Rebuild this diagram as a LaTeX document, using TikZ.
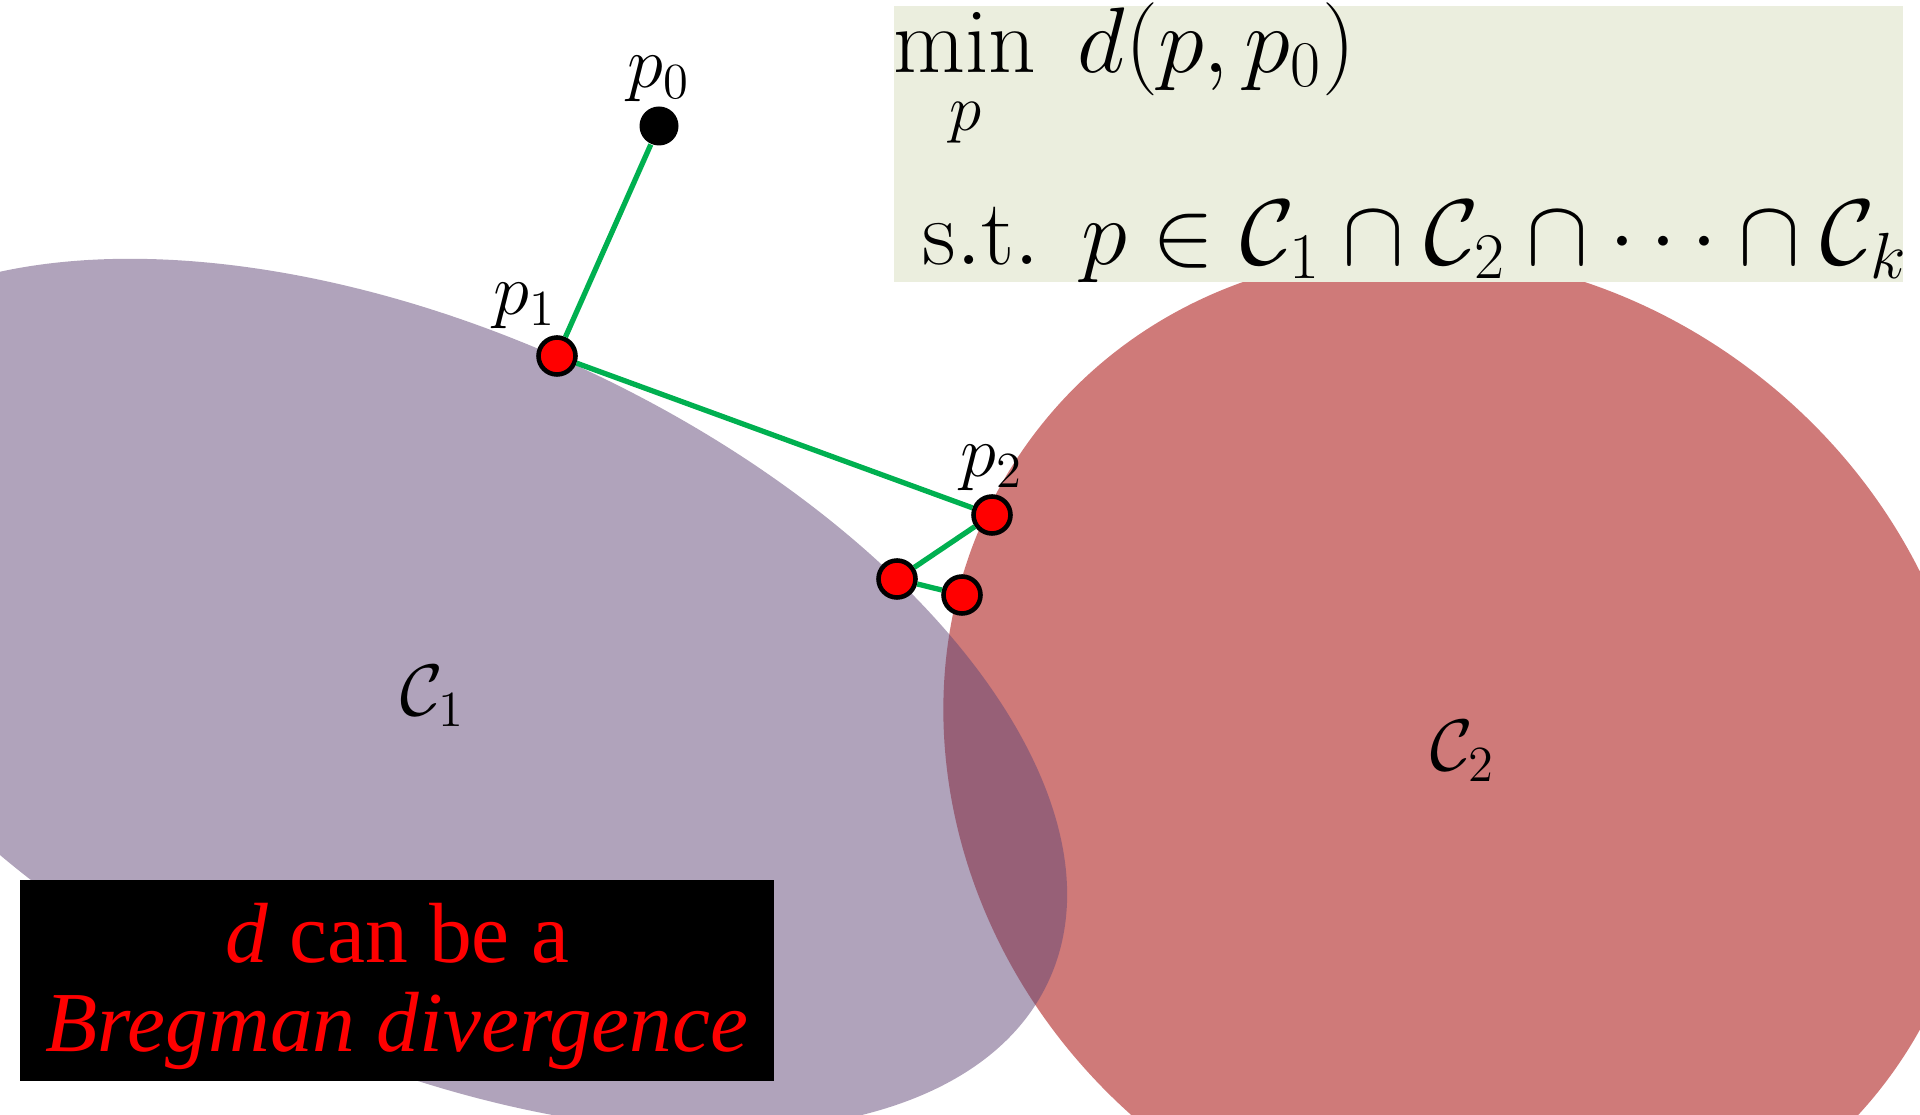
\documentclass[tikz,border=0pt]{standalone}
\usepackage{fix-cm}
\usepackage{amsmath,amssymb}
\usepackage{fontspec}
\newfontfamily\notefont{Liberation Serif}
\usepackage{tikz}
\usetikzlibrary{positioning, calc}
\definecolor{setone}{RGB}{97,71,119}
\definecolor{settwo}{RGB}{207,122,121}
\definecolor{boxbg}{RGB}{235,238,222}
\definecolor{pathgreen}{RGB}{0,176,80}
\tikzset{iterate/.style={circle,fill=red,draw=black,line width=1.3pt,minimum size=3.7mm,inner sep=0pt},
    start point/.style={circle,fill=black,minimum size=3.9mm,inner sep=0pt},
    proj edge/.style={draw,pathgreen,line width=1.5pt},
    ptlabel/.style={inner sep=0pt,font=\fontsize{20.74}{24}\selectfont},
    formula/.style={anchor=base west,inner sep=0pt,font=\fontsize{26.5}{30}\selectfont}}

\begin{document}
\begin{tikzpicture}
\useasboundingbox (0,0) rectangle (19.2,11.14);
\clip (0,0) rectangle (19.2,11.14);

% Draw the second set (red) on the right
\fill[settwo, rotate around={-38:(14.6,3.56)}] (14.6,3.56) ellipse (5.35cm and 4.85cm);

% Draw the first set (purple) over it, half transparent
\fill[setone, opacity=0.5, rotate around={-24.5:(4.24,4.19)}] (4.24,4.19) ellipse (6.87cm and 3.63cm);

% Label the sets
\node[ptlabel] (c1lab) at (4.33,4.18) {$\mathcal{C}_1$};
\node[ptlabel] (c2lab) at (14.63,3.63) {$\mathcal{C}_2$};

% The problem in the top right corner
\node[fill=boxbg, minimum width=10.09cm, minimum height=2.76cm, anchor=north west, inner sep=0pt] (prob) at (8.93,11.09) {};
\node[formula] (obj) at ($(prob.north west)+(0,-0.68)$) {$\displaystyle\min_{\rule{0pt}{12pt}p}\; d(p,p_0)$};
\node[formula] (cons) at ($(prob.north west)+(0.29,-2.60)$) {$\mathrm{s.t.}\;\, p\in\mathcal{C}_1\cap\mathcal{C}_2\cap\cdots\cap\mathcal{C}_k$};

% The note in the bottom left corner
\node[fill=black, minimum width=7.54cm, minimum height=2.01cm, align=center, text=red,
    font=\notefont\fontsize{24.3}{25.3}\selectfont] (note) at (3.97,1.335)
    {\rule{0pt}{20pt}\textit{d} can be a\\\textit{Bregman divergence}};

% The points
\node[start point] (p0) at (6.59,9.88) {};
\node[iterate] (p1) at (5.57,7.58) {};
\node[iterate] (p2) at (9.92,5.99) {};
\node[iterate] (p3) at (8.97,5.35) {};
\node[iterate] (p4) at (9.62,5.19) {};

% Join them
\foreach \a/\b in {p0/p1, p1/p2, p2/p3, p3/p4}
  \draw[proj edge] (\a) -- (\b);

% Label the points
\node[ptlabel, above=0.3mm of p0] (p0lab) {$p_0$};
\node[ptlabel, anchor=south east, yshift=0.6mm] (p1lab) at (p1.north) {$p_1$};
\node[ptlabel, above=0.3mm of p2] (p2lab) {$p_2$};
\end{tikzpicture}
\end{document}
